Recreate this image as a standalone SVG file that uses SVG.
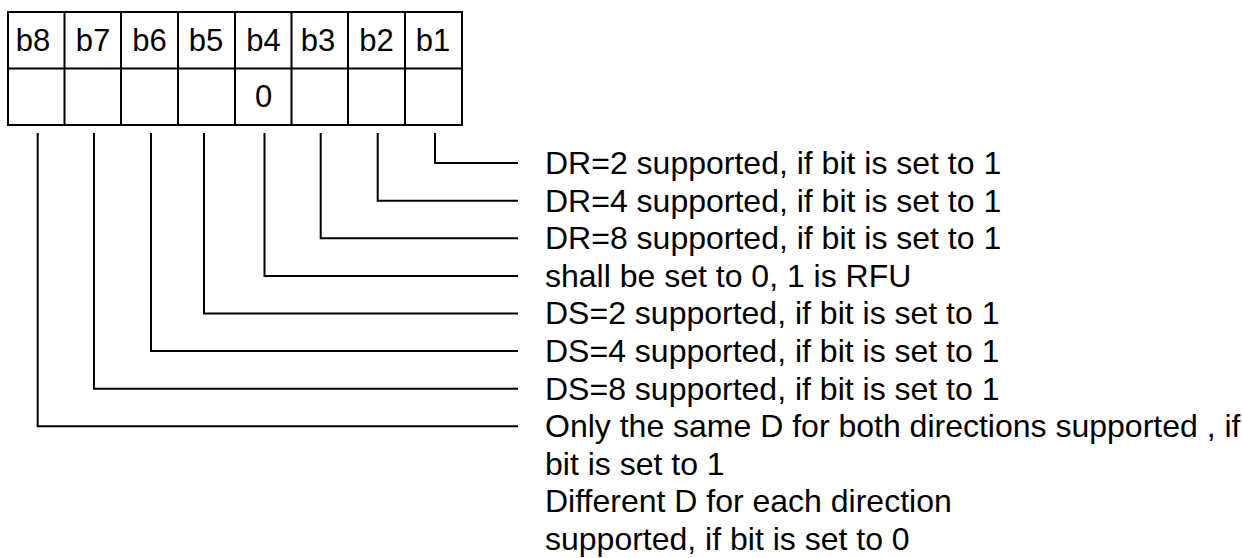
<svg xmlns="http://www.w3.org/2000/svg" width="1242" height="558" viewBox="0 0 1242 558">
<style>
.cell{fill:#fff;stroke:#000;stroke-width:2}
.bit{font-family:"Liberation Sans",Arial,sans-serif;font-size:31px;fill:#000;text-anchor:middle}
.lbl{font-family:"Liberation Sans",Arial,sans-serif;font-size:32px;fill:#000}
.con{fill:none;stroke:#000;stroke-width:2}
</style>
<rect width="1242" height="558" fill="#fff"/>
<g id="register">
<rect class="cell" x="8" y="12" width="454" height="113"/>
<path class="con" d="M8 68.5H462M64.5 12V125M121 12V125M178 12V125M235 12V125M291.5 12V125M348 12V125M405 12V125"/>
<text class="bit" x="33" y="50.5">b8</text>
<text class="bit" x="93" y="50.5">b7</text>
<text class="bit" x="149.5" y="50.5">b6</text>
<text class="bit" x="206" y="50.5">b5</text>
<text class="bit" x="263.5" y="50.5">b4</text>
<text class="bit" x="318" y="50.5">b3</text>
<text class="bit" x="376.5" y="50.5">b2</text>
<text class="bit" x="433" y="50.5">b1</text>
<text class="bit" x="263.5" y="107">0</text>
</g>
<g id="connectors">
<path class="con" d="M435 133V163H518"/>
<path class="con" d="M377.7 133V200.7H518"/>
<path class="con" d="M320.7 133V238.3H518"/>
<path class="con" d="M264.5 133V276H518"/>
<path class="con" d="M204 133V313.5H518"/>
<path class="con" d="M151 133V351H518"/>
<path class="con" d="M94 133V388.7H518"/>
<path class="con" d="M37.7 133V426.3H518"/>
</g>
<g id="labels">
<text class="lbl" x="545" y="174">DR=2 supported, if bit is set to 1</text>
<text class="lbl" x="545" y="211.6">DR=4 supported, if bit is set to 1</text>
<text class="lbl" x="545" y="249.2">DR=8 supported, if bit is set to 1</text>
<text class="lbl" x="545" y="286.8">shall be set to 0, 1 is RFU</text>
<text class="lbl" x="545" y="324.4">DS=2 supported, if bit is set to 1</text>
<text class="lbl" x="545" y="362">DS=4 supported, if bit is set to 1</text>
<text class="lbl" x="545" y="399.6">DS=8 supported, if bit is set to 1</text>
<text class="lbl" x="545" y="437.2">Only the same D for both directions supported , if</text>
<text class="lbl" x="545" y="474.8">bit is set to 1</text>
<text class="lbl" x="545" y="512.4">Different D for each direction</text>
<text class="lbl" x="545" y="550">supported, if bit is set to 0</text>
</g>
</svg>
